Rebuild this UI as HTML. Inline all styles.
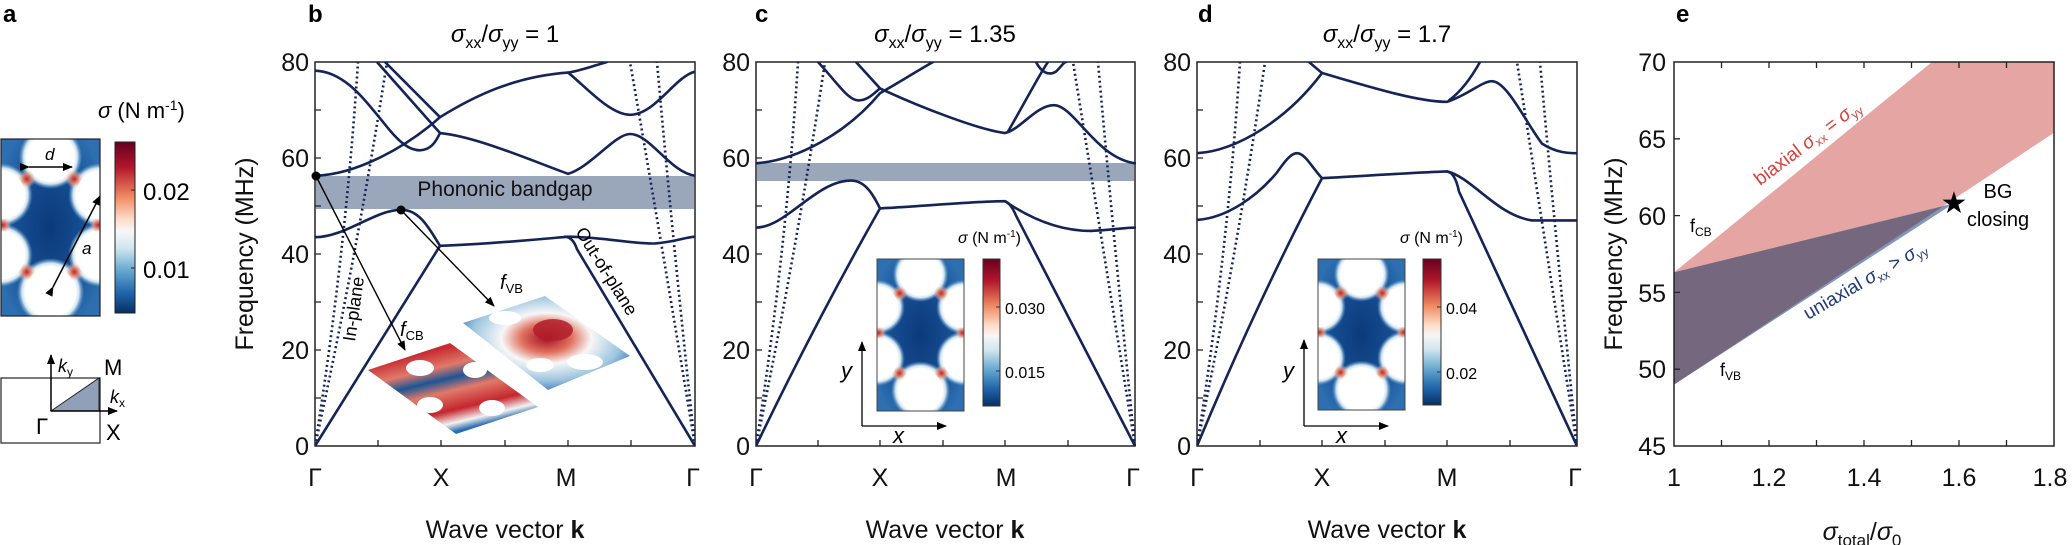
<!DOCTYPE html>
<html><head><meta charset="utf-8"><style>
html,body{margin:0;padding:0;background:#fff;}
svg{display:block;font-family:"Liberation Sans",sans-serif;}
.ln{fill:none;stroke:#142456;stroke-width:2.6;vector-effect:non-scaling-stroke;stroke-linecap:round;}
.dt{fill:none;stroke:#142456;stroke-width:2.6;stroke-dasharray:2 3;vector-effect:non-scaling-stroke;}
.ax{fill:none;stroke:#222;stroke-width:1.5;}
.tk{font-size:25px;fill:#111;}
</style></head><body>
<svg width="2072" height="545" viewBox="0 0 2072 545" xmlns="http://www.w3.org/2000/svg">
<defs>
<linearGradient id="cbar" x1="0" y1="0" x2="0" y2="1">
<stop offset="0" stop-color="#67001f"/><stop offset=".15" stop-color="#b2182b"/><stop offset=".32" stop-color="#ef8a62"/><stop offset=".45" stop-color="#fddbc7"/><stop offset=".52" stop-color="#f7f7f7"/><stop offset=".62" stop-color="#d1e5f0"/><stop offset=".75" stop-color="#67a9cf"/><stop offset=".88" stop-color="#2166ac"/><stop offset="1" stop-color="#053061"/></linearGradient>
<radialGradient id="bg" cx=".5" cy=".5" r=".6"><stop offset="0" stop-color="#0b3a7a"/><stop offset=".6" stop-color="#174f95"/><stop offset="1" stop-color="#2d6fb0"/></radialGradient>
<radialGradient id="rb"><stop offset="0" stop-color="#c0252e"/><stop offset=".5" stop-color="#e98468" stop-opacity=".8"/><stop offset="1" stop-color="#f4c9b5" stop-opacity="0"/></radialGradient>
<radialGradient id="halo"><stop offset=".75" stop-color="#fff"/><stop offset=".85" stop-color="#cfe3f0"/><stop offset="1" stop-color="#6aa6d0" stop-opacity="0"/></radialGradient>
<symbol id="cell" viewBox="0 0 100 177" preserveAspectRatio="none">
<rect width="100" height="177" fill="url(#bg)"/>
<g fill="url(#halo)"><circle cx="50" cy="18" r="32"/><circle cx="50" cy="153" r="34"/><circle cx="0" cy="56" r="32"/><circle cx="100" cy="56" r="32"/><circle cx="0" cy="116" r="32"/><circle cx="100" cy="116" r="32"/></g>
<g fill="url(#rb)"><circle cx="26" cy="40" r="9"/><circle cx="74" cy="40" r="9"/><circle cx="26" cy="133" r="9"/><circle cx="74" cy="133" r="9"/><circle cx="2" cy="86" r="8"/><circle cx="98" cy="86" r="8"/><circle cx="50" cy="0" r="9"/><circle cx="50" cy="177" r="9"/></g>
<g fill="#fff"><circle cx="50" cy="18" r="24"/><circle cx="50" cy="153" r="25"/><circle cx="0" cy="56" r="24"/><circle cx="100" cy="56" r="24"/><circle cx="0" cy="116" r="24"/><circle cx="100" cy="116" r="24"/></g>
</symbol>
<linearGradient id="mcb" x1="0" y1="0" x2=".45" y2="1"><stop offset="0" stop-color="#2b6cb0"/><stop offset=".08" stop-color="#f2f2f2"/><stop offset=".2" stop-color="#c5262e"/><stop offset=".38" stop-color="#e07a6a"/><stop offset=".5" stop-color="#1b5596"/><stop offset=".62" stop-color="#e07a6a"/><stop offset=".8" stop-color="#c5262e"/><stop offset=".92" stop-color="#f2f2f2"/><stop offset="1" stop-color="#2b6cb0"/></linearGradient>
<radialGradient id="mvb" cx=".5" cy=".45" r=".6"><stop offset="0" stop-color="#a50f24"/><stop offset=".25" stop-color="#e0705e"/><stop offset=".45" stop-color="#f7f7f7"/><stop offset=".75" stop-color="#9cc5e0"/><stop offset="1" stop-color="#2b6cb0"/></radialGradient>
<clipPath id="cp"><rect x="0" y="0" width="380" height="80"/></clipPath>
<marker id="ah" markerWidth="10" markerHeight="8" refX="9" refY="4" orient="auto" markerUnits="userSpaceOnUse"><path d="M0,0 L10,4 L0,8 Z" fill="#000"/></marker>
</defs>

<g font-weight="bold" font-size="24"><text x="3" y="22">a</text><text x="308" y="22">b</text><text x="755" y="22">c</text><text x="1198" y="22">d</text><text x="1676" y="22">e</text></g>

<use href="#cell" x="1" y="139" width="99" height="177"/>
<rect x="1" y="139" width="99" height="177" fill="none" stroke="#222" stroke-width="1.2"/>
<line x1="29" y1="167" x2="72" y2="167" stroke="#000" stroke-width="1.5" marker-end="url(#ah)" marker-start="url(#ah)"/>
<text x="45" y="160" font-size="17" font-style="italic">d</text>
<line x1="53" y1="287" x2="100" y2="196" stroke="#000" stroke-width="1.5" marker-end="url(#ah)" marker-start="url(#ah)"/>
<text x="82" y="254" font-size="17" font-style="italic">a</text>
<rect x="115" y="142" width="20" height="171" fill="url(#cbar)" stroke="#222" stroke-width="1"/>
<line x1="131" y1="190" x2="135" y2="190" stroke="#222"/><line x1="131" y1="268" x2="135" y2="268" stroke="#222"/>
<text x="143" y="200" font-size="24">0.02</text><text x="143" y="278" font-size="24">0.01</text>
<text x="98" y="118" font-size="22"><tspan font-style="italic">σ</tspan> (N m<tspan font-size="14" dy="-8">-1</tspan><tspan dy="8">)</tspan></text>
<rect x="1" y="378" width="99" height="65" fill="none" stroke="#222" stroke-width="1.2"/>
<polygon points="51,411 99,378 99,411" fill="#8fa0b8" stroke="#222" stroke-width="1"/>
<line x1="51" y1="411" x2="51" y2="355" stroke="#000" stroke-width="1.5" marker-end="url(#ah)"/>
<line x1="51" y1="411" x2="117" y2="411" stroke="#000" stroke-width="1.5" marker-end="url(#ah)"/>
<text x="58" y="372" font-size="18" font-style="italic">k<tspan font-size="12" dy="4" font-style="normal">y</tspan></text>
<text x="110" y="403" font-size="18" font-style="italic">k<tspan font-size="12" dy="4" font-style="normal">x</tspan></text>
<text x="104" y="375" font-size="22">M</text><text x="106" y="440" font-size="22">X</text><text x="36" y="434" font-size="22">Γ</text>

<g>
<rect class="ax" x="315" y="62" width="380" height="384"/>
<rect class="ax" x="756" y="62" width="379" height="384"/>
<rect class="ax" x="1197" y="62" width="380" height="384"/>
</g>
<rect x="316" y="176" width="378" height="33" fill="#9aa6ba"/>
<rect x="757" y="163" width="377" height="18" fill="#9aa6ba"/>

<g stroke="#222" stroke-width="1.3">
<path d="M315,398h6M315,350h6M315,302h6M315,254h6M315,206h6M315,158h6M315,110h6M378,446v-6M441,446v-6M505,446v-6M568,446v-6M631,446v-6"/>
<path d="M756,398h6M756,350h6M756,302h6M756,254h6M756,206h6M756,158h6M756,110h6M818,446v-6M880,446v-6M943,446v-6M1005,446v-6M1068,446v-6"/>
<path d="M1197,398h6M1197,350h6M1197,302h6M1197,254h6M1197,206h6M1197,158h6M1197,110h6M1260,446v-6M1322,446v-6M1385,446v-6M1447,446v-6M1510,446v-6"/>
</g>
<g class="tk" text-anchor="end">
<text x="309" y="71">80</text><text x="309" y="167">60</text><text x="309" y="263">40</text><text x="309" y="359">20</text><text x="309" y="455">0</text>
<text x="750" y="71">80</text><text x="750" y="167">60</text><text x="750" y="263">40</text><text x="750" y="359">20</text><text x="750" y="455">0</text>
<text x="1191" y="71">80</text><text x="1191" y="167">60</text><text x="1191" y="263">40</text><text x="1191" y="359">20</text><text x="1191" y="455">0</text>
</g>
<g class="tk" text-anchor="middle">
<text x="315" y="486">Γ</text><text x="441" y="486">X</text><text x="566" y="486">M</text><text x="693" y="486">Γ</text>
<text x="756" y="486">Γ</text><text x="880" y="486">X</text><text x="1006" y="486">M</text><text x="1133" y="486">Γ</text>
<text x="1197" y="486">Γ</text><text x="1322" y="486">X</text><text x="1447" y="486">M</text><text x="1575" y="486">Γ</text>
<text x="505" y="538">Wave vector <tspan font-weight="bold">k</tspan></text>
<text x="945" y="538">Wave vector <tspan font-weight="bold">k</tspan></text>
<text x="1387" y="538">Wave vector <tspan font-weight="bold">k</tspan></text>
</g>
<text class="tk" transform="translate(253,254) rotate(-90)" text-anchor="middle">Frequency (MHz)</text>
<g font-size="24" text-anchor="middle">
<text x="505" y="42"><tspan font-style="italic">σ</tspan><tspan font-size="16" dy="6">xx</tspan><tspan dy="-6">/</tspan><tspan font-style="italic">σ</tspan><tspan font-size="16" dy="6">yy</tspan><tspan dy="-6"> = 1</tspan></text>
<text x="945" y="42"><tspan font-style="italic">σ</tspan><tspan font-size="16" dy="6">xx</tspan><tspan dy="-6">/</tspan><tspan font-style="italic">σ</tspan><tspan font-size="16" dy="6">yy</tspan><tspan dy="-6"> = 1.35</tspan></text>
<text x="1387" y="42"><tspan font-style="italic">σ</tspan><tspan font-size="16" dy="6">xx</tspan><tspan dy="-6">/</tspan><tspan font-style="italic">σ</tspan><tspan font-size="16" dy="6">yy</tspan><tspan dy="-6"> = 1.7</tspan></text>
</g>
<text x="505" y="196" font-size="21" text-anchor="middle" fill="#111">Phononic bandgap</text>

<polygon points="368,370 450,343 538,407 456,434" fill="url(#mcb)"/>
<g fill="#fff"><ellipse cx="420" cy="368" rx="14" ry="8"/><ellipse cx="475" cy="370" rx="12" ry="8"/><ellipse cx="430" cy="405" rx="13" ry="8"/><ellipse cx="492" cy="408" rx="13" ry="8"/></g>
<polygon points="463,323 545,296 630,356 548,390" fill="url(#mvb)"/>
<g fill="#fff"><ellipse cx="505" cy="318" rx="16" ry="7"/><ellipse cx="585" cy="362" rx="18" ry="8"/><ellipse cx="540" cy="365" rx="14" ry="7"/><ellipse cx="600" cy="325" rx="12" ry="6"/></g>
<ellipse cx="553" cy="330" rx="20" ry="11" fill="#b01d2a" opacity=".85"/>

<g transform="translate(315,446) scale(1,-4.8)">
<g clip-path="url(#cp)">
<path class="ln" d="M0,0 L125,41.7"/>
<path class="ln" d="M0,43.5 C30,43.5 60,49.2 86,49.2 C105,49.3 115,45 125,41.7 C170,42 220,43 253,43.6 C290,43.5 320,42 340,42.2 C360,42.5 370,43.5 380,43.6"/>
<path class="ln" d="M250,43.6 Q258,43.5 262,41 L380,0"/>
<path class="ln" d="M0,56.3 C40,56.5 90,62 125,68.5 C160,73 200,77 253,77.8 C262,78 275,79 292,80"/>
<path class="ln" d="M253,77.8 C270,75 295,69 315,69 C340,69 360,77 380,78"/>
<path class="ln" d="M0,78.2 C30,78 50,72 70,67 C85,63 95,61.6 105,61.6 C115,61.7 120,63 125,65.2 C160,64.5 210,60 253,56.7 C275,58 300,65 315,65 C335,65 355,57 380,56.3"/>
<path class="ln" d="M62,80 L125,65.2 M70,80 L125,68.5"/>
<path class="dt" d="M0,0 Q30.5,40 43,80 M0,0 Q42,40 72,80 M380,0 Q348.5,40 315,80 M380,0 Q359,40 342,80"/>
</g></g>
<circle cx="316" cy="176" r="4.5" fill="#000"/><circle cx="401" cy="210" r="4.5" fill="#000"/>
<line x1="316" y1="176" x2="405" y2="350" stroke="#000" stroke-width="1.4" marker-end="url(#ah)"/>
<line x1="401" y1="210" x2="494" y2="306" stroke="#000" stroke-width="1.4" marker-end="url(#ah)"/>
<text x="400" y="336" font-size="20"><tspan font-style="italic">f</tspan><tspan font-size="13" dy="4">CB</tspan></text>
<text x="500" y="289" font-size="20"><tspan font-style="italic">f</tspan><tspan font-size="13" dy="4">VB</tspan></text>
<text transform="translate(355,342) rotate(-82)" font-size="18">In-plane</text>
<text transform="translate(575,232) rotate(58)" font-size="18">Out-of-plane</text>

<g transform="translate(756,446) scale(1,-4.8)">
<g clip-path="url(#cp)">
<path class="ln" d="M0,0 Q60,26 124,49.5"/>
<path class="ln" d="M0,45.5 C30,45.5 60,55.3 95,55.3 C110,55.3 118,52 124,49.5 C170,50 220,51 249,51 C270,48 300,44.8 335,44.8 C355,45 370,45.5 379,45.5"/>
<path class="ln" d="M249,51 Q255,50.5 260,48 L379,0"/>
<path class="ln" d="M0,58.9 C40,59.5 90,65 124,73.5 C145,76 160,78 177,80"/>
<path class="ln" d="M62,80 C80,76 92,72 102,72 C112,72 118,73.5 124,74.5 L100,80"/>
<path class="ln" d="M124,74.5 C160,71 220,66 249,65.2 C265,66 280,71 298,71 C318,71 340,60 379,58.9"/>
<path class="ln" d="M252,65.5 C270,72 285,78 292,80 M280,80 C285,78 292,77 300,78 C305,79 308,80 310,80"/>
<path class="dt" d="M0,0 Q30,40 42,80 M0,0 Q40,40 69,80 M379,0 Q348,40 317,80 M379,0 Q359,40 342,80"/>
</g></g>
<use href="#cell" x="877" y="259" width="87" height="152"/>
<rect x="877" y="259" width="87" height="152" fill="none" stroke="#444" stroke-width="1"/>
<rect x="983" y="259" width="17" height="147" fill="url(#cbar)" stroke="#333" stroke-width="1"/>
<line x1="996" y1="307" x2="1000" y2="307" stroke="#333"/><line x1="996" y1="371" x2="1000" y2="371" stroke="#333"/>
<text x="1005" y="314" font-size="16">0.030</text><text x="1005" y="378" font-size="16">0.015</text>
<text x="958" y="243" font-size="16"><tspan font-style="italic">σ</tspan> (N m<tspan font-size="10" dy="-6">-1</tspan><tspan dy="6">)</tspan></text>
<line x1="862" y1="426" x2="862" y2="342" stroke="#000" stroke-width="1.3" marker-end="url(#ah)"/>
<line x1="862" y1="426" x2="946" y2="426" stroke="#000" stroke-width="1.3" marker-end="url(#ah)"/>
<text x="841" y="378" font-size="22" font-style="italic">y</text><text x="893" y="443" font-size="22" font-style="italic">x</text>

<g transform="translate(1197,446) scale(1,-4.8)">
<g clip-path="url(#cp)">
<path class="ln" d="M0,0 Q60,30 125,55.8"/>
<path class="ln" d="M0,47.1 C30,47.5 60,52 80,57 C90,60 95,61 100,61 C108,61 115,58 125,55.8 C170,56.3 220,57 250,57.2 C275,56 300,48 335,47 L380,47"/>
<path class="ln" d="M250,57.2 Q258,57 262,53 L380,0"/>
<path class="ln" d="M0,61 C40,61.5 90,68 125,77.7 L112,80"/>
<path class="ln" d="M125,77.7 C170,75 220,71.7 250,71.7 C270,73 285,76 295,76 C310,76 330,67 345,63 C360,61 372,61 380,61"/>
<path class="ln" d="M252,72 C265,74 275,77 283,80"/>
<path class="dt" d="M0,0 Q30.5,40 43,80 M0,0 Q40,40 68,80 M380,0 Q350,40 320,80 M380,0 Q360,40 343,80"/>
</g></g>
<use href="#cell" x="1318" y="259" width="87" height="151"/>
<rect x="1318" y="259" width="87" height="151" fill="none" stroke="#444" stroke-width="1"/>
<rect x="1423" y="259" width="18" height="146" fill="url(#cbar)" stroke="#333" stroke-width="1"/>
<line x1="1437" y1="307" x2="1441" y2="307" stroke="#333"/><line x1="1437" y1="372" x2="1441" y2="372" stroke="#333"/>
<text x="1446" y="314" font-size="16">0.04</text><text x="1446" y="379" font-size="16">0.02</text>
<text x="1400" y="243" font-size="16"><tspan font-style="italic">σ</tspan> (N m<tspan font-size="10" dy="-6">-1</tspan><tspan dy="6">)</tspan></text>
<line x1="1304" y1="426" x2="1304" y2="340" stroke="#000" stroke-width="1.3" marker-end="url(#ah)"/>
<line x1="1304" y1="426" x2="1388" y2="426" stroke="#000" stroke-width="1.3" marker-end="url(#ah)"/>
<text x="1283" y="378" font-size="22" font-style="italic">y</text><text x="1336" y="443" font-size="22" font-style="italic">x</text>

<polygon points="1674,272.4 1932,62 2054,62 2054,132.7 1674,384.6" fill="#e4a5a3"/>
<polygon points="1674,272.4 1954,203.3 1674,384.6" fill="#7f98b8"/>
<polygon points="1674,272.4 1943,206.4 1674,384.6" fill="#75677e"/>
<rect class="ax" x="1674" y="62" width="380" height="384"/>
<g stroke="#222" stroke-width="1.3">
<path d="M1721.5,446v-6M1769,446v-6M1816.5,446v-6M1864,446v-6M1911.5,446v-6M1959,446v-6M2006.5,446v-6"/>
<path d="M1721.5,62v6M1769,62v6M1816.5,62v6M1864,62v6M1911.5,62v6M1959,62v6M2006.5,62v6"/>
<path d="M1674,369.2h6M1674,292.4h6M1674,215.6h6M1674,138.8h6"/>
</g>
<g class="tk" text-anchor="end"><text x="1666" y="71">70</text><text x="1666" y="148">65</text><text x="1666" y="225">60</text><text x="1666" y="302">55</text><text x="1666" y="378">50</text><text x="1666" y="455">45</text></g>
<g class="tk" text-anchor="middle"><text x="1674" y="486">1</text><text x="1769" y="486">1.2</text><text x="1864" y="486">1.4</text><text x="1959" y="486">1.6</text><text x="2050" y="486">1.8</text>
<text x="1862" y="540"><tspan font-style="italic">σ</tspan><tspan font-size="17" dy="6">total</tspan><tspan dy="-6">/</tspan><tspan font-style="italic">σ</tspan><tspan font-size="17" dy="6">0</tspan></text></g>
<text class="tk" transform="translate(1622,254) rotate(-90)" text-anchor="middle">Frequency (MHz)</text>
<text transform="translate(1760,186) rotate(-37)" font-size="19" fill="#d7403b">biaxial <tspan font-style="italic">σ</tspan><tspan font-size="12" dy="4">xx</tspan><tspan dy="-4"> = </tspan><tspan font-style="italic">σ</tspan><tspan font-size="12" dy="4">yy</tspan></text>
<text transform="translate(1808,320) rotate(-30)" font-size="19" fill="#1f3a78">uniaxial <tspan font-style="italic">σ</tspan><tspan font-size="12" dy="4">xx</tspan><tspan dy="-4"> &gt; </tspan><tspan font-style="italic">σ</tspan><tspan font-size="12" dy="4">yy</tspan></text>
<text x="1690" y="232" font-size="18">f<tspan font-size="12" dy="4">CB</tspan></text>
<text x="1720" y="376" font-size="18">f<tspan font-size="12" dy="4">VB</tspan></text>
<text x="1954" y="213" font-size="30" text-anchor="middle">★</text>
<text x="1998" y="198" font-size="20" text-anchor="middle">BG</text>
<text x="1998" y="226" font-size="20" text-anchor="middle">closing</text>
</svg>
</body></html>
